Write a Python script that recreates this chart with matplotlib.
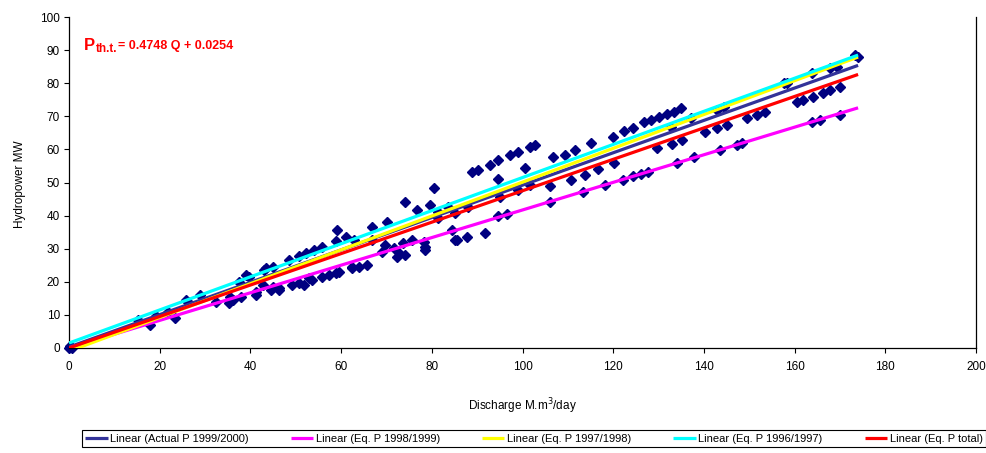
import numpy as np
import matplotlib
matplotlib.use('Agg')
import matplotlib.pyplot as plt

plt.rcParams['font.family'] = ['Liberation Sans', 'DejaVu Sans']

# measured discharge (M.m3/day) and hydropower (MW)
discharge = [
    0.0, 0.4, 0.2, 0.6,
    15.2, 17.8, 19.2, 21.8, 23.3, 25.8, 26.2, 28.8, 32.4, 35.3, 35.6, 36.1,
    37.5, 37.9, 39.0, 39.7, 41.2, 41.2, 42.7, 43.4, 43.0, 44.5, 44.9, 44.9,
    46.3, 46.3, 48.5, 49.2, 50.7, 50.7, 51.8, 52.2, 52.9, 53.6, 54.0, 55.8,
    55.8, 57.3, 58.8, 58.8, 59.1, 59.5, 61.0, 62.4, 62.4, 62.8, 63.9, 65.7,
    66.8, 66.8, 69.0, 69.7, 70.1, 71.6, 72.3, 72.7, 73.6, 74.1, 74.1, 75.6,
    76.7, 78.2, 78.5, 78.5, 79.6, 80.4, 81.4, 81.4, 83.6, 84.4, 85.1, 85.1,
    85.5, 87.7, 88.0, 88.8, 90.2, 91.7, 92.8, 94.6, 94.6, 94.6, 95.0, 96.5,
    97.2, 99.0, 99.0, 100.5, 101.6, 101.6, 102.7, 106.0, 106.0, 106.7, 109.3,
    110.6, 111.5, 113.3, 113.7, 115.1, 116.6, 118.2, 119.9, 120.2, 122.1,
    122.4, 124.3, 124.3, 126.1, 126.8, 127.6, 128.3, 129.7, 130.1, 131.9,
    132.7, 133.0, 133.4, 134.1, 134.9, 135.2, 137.1, 137.8, 140.3, 142.9,
    142.9, 143.6, 144.4, 145.1, 147.3, 148.4, 149.5, 151.7, 153.5, 157.6,
    158.3, 160.5, 161.9, 163.8, 163.8, 164.1, 165.6, 166.3, 167.8, 167.8,
    169.3, 170.0, 170.0, 173.3, 174.0,
]
power = [
    0.0, 0.3, 0.6, 0.1,
    8.5, 6.9, 9.7, 11.0, 9.0, 14.5, 13.8, 16.0, 14.0, 13.5, 15.5, 14.5,
    20.0, 15.5, 22.0, 21.5, 17.0, 16.0, 19.0, 24.1, 23.6, 17.5, 18.5, 24.6,
    17.5, 18.0, 26.6, 19.0, 19.5, 27.8, 19.0, 28.6, 21.0, 20.5, 29.6, 21.5,
    30.6, 22.1, 22.6, 32.2, 35.6, 23.0, 33.4, 24.1, 24.6, 32.6, 24.6, 25.1,
    32.6, 36.5, 29.1, 31.1, 38.2, 30.1, 27.6, 28.6, 31.6, 28.1, 44.2, 32.6,
    41.7, 32.1, 29.6, 30.6, 43.2, 48.2, 39.2, 41.2, 42.7, 35.6, 32.6, 40.7,
    32.6, 33.6, 42.7, 53.3, 53.8, 34.8, 55.3, 56.8, 51.1, 39.8, 45.7, 40.4,
    58.3, 59.3, 47.7, 54.3, 60.8, 49.2, 61.3, 44.2, 49.0, 57.8, 58.3,
    50.8, 59.8, 47.2, 52.3, 61.8, 54.0, 49.2, 63.8, 55.8, 50.9,
    65.6, 66.6, 51.9, 52.7, 68.4, 53.3, 68.9, 60.3, 69.9, 70.7,
    66.9, 61.6, 71.4, 55.8, 72.4, 62.8, 69.4, 57.6, 65.4, 66.4,
    71.9, 59.8, 72.9, 67.4, 61.3, 61.8, 69.4, 70.4, 71.4, 80.0,
    80.0, 74.4, 74.9, 83.0, 68.4, 75.9, 68.9, 76.9, 78.0, 84.5,
    85.0, 79.0, 70.4, 88.5, 88.0,
]

# linear trend lines: label, slope, intercept, colour
trend_labels = ['Linear (Actual P 1999/2000)', 'Linear (Eq. P 1998/1999)',
                'Linear (Eq. P 1997/1998)', 'Linear (Eq. P 1996/1997)',
                'Linear (Eq. P total)']
trend_slopes = [0.489, 0.417, 0.511, 0.500, 0.4748]
trend_intercepts = [0.3, 0.0, -1.0, 1.5, 0.0254]
trend_colors = ['#333399', '#FF00FF', '#FFFF00', '#00FFFF', '#FF0000']
trend_x = [0.0, 174.0]

W, H = 987, 453
fig = plt.figure(figsize=(W / 100, H / 100), dpi=100)
ax = fig.add_axes([69 / W, 1 - 348 / H, 907 / W, 331 / H])

ax.plot(discharge, power, linestyle='none', marker='D', markersize=5.5,
        color='#000080', clip_on=False, zorder=2)

lines = []
for lab, m, c, col in zip(trend_labels, trend_slopes, trend_intercepts, trend_colors):
    xs = np.array(trend_x)
    ln, = ax.plot(xs, m * xs + c, color=col, linewidth=2.3, label=lab,
                  solid_capstyle='butt', zorder=3)
    lines.append(ln)

ax.set_xlim(0, 200)
ax.set_ylim(0, 100)
ax.set_xticks(np.arange(0, 201, 20))
ax.set_yticks(np.arange(0, 101, 10))
ax.tick_params(direction='out', length=3.5, width=0.8, labelsize=8.5, colors='black')
ax.tick_params(axis='x', pad=6)
ax.tick_params(axis='y', pad=3)
for side in ['left', 'bottom', 'right']:
    ax.spines[side].set_color('black')
    ax.spines[side].set_linewidth(0.9)
ax.spines['top'].set_visible(False)

ax.set_xlabel('Discharge M.m$^{3}$/day', fontsize=8.5)
ax.xaxis.set_label_coords(0.5, -0.175)
ax.xaxis.label.set_va('center')
ax.set_ylabel('Hydropower MW', fontsize=8.5)
ax.yaxis.set_label_coords(-0.054, 0.495)
ax.yaxis.label.set_va('center')

# regression equation of the total curve
def px(x, y):
    return x / W, 1 - y / H

fig.text(*px(84, 49.5), 'P', color='#FF0000', fontsize=12, fontweight='bold', va='baseline')
fig.text(*px(95.5, 52.5), 'th.t.', color='#FF0000', fontsize=8.5, fontweight='bold', va='baseline')
fig.text(*px(118, 49.5), '= 0.4748 Q + 0.0254', color='#FF0000', fontsize=9,
         fontweight='bold', va='baseline')

leg = fig.legend(handles=lines, loc='lower left', ncol=5, mode='expand',
                 bbox_to_anchor=(82 / W, 6 / H, 904 / W, 20 / H),
                 fontsize=8, handlelength=2.0, handletextpad=0.25,
                 borderpad=0.3, borderaxespad=0, fancybox=False,
                 edgecolor='black', framealpha=1)
leg.get_frame().set_linewidth(0.8)

fig.savefig('out.png', dpi=100)
